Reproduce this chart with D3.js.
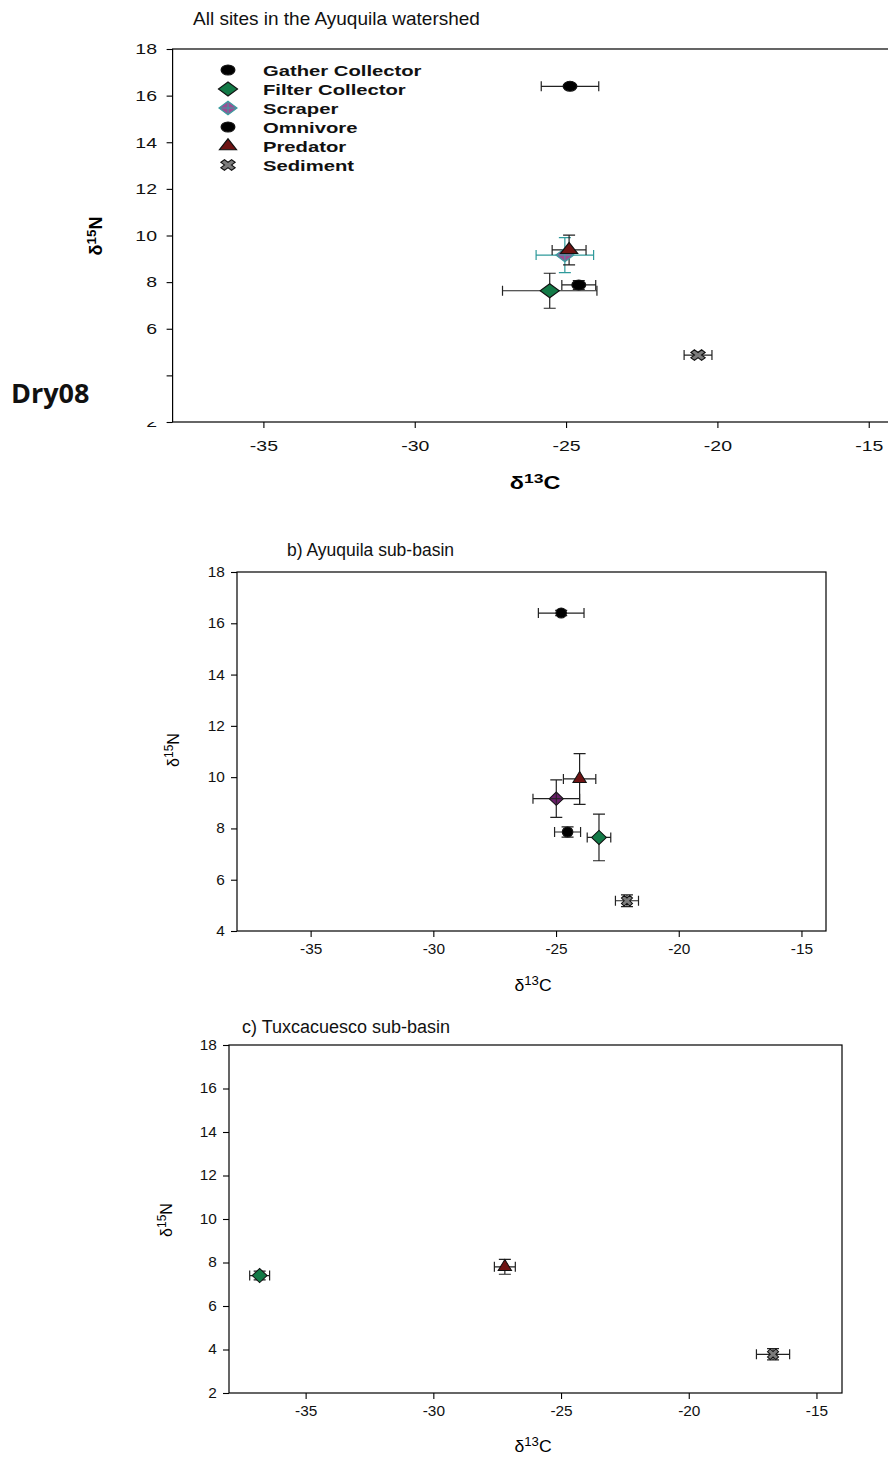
<!DOCTYPE html>
<html>
<head>
<meta charset="utf-8">
<script src="https://cdnjs.cloudflare.com/ajax/libs/d3/7.8.5/d3.min.js"></script>
<style>
body { margin:0; background:#fff; }
svg { display:block; font-family:"Liberation Sans", Arial, sans-serif; }
</style>
</head>
<body>
<svg id="drawing_region"></svg>
<script>
// groups, in legend order
const groups = ["Gather Collector", "Filter Collector", "Scraper", "Omnivore", "Predator", "Sediment"];
const xTicks = [-35, -30, -25, -20, -15];
const xDomain = [-38, -14];

// a) all sites, Dry08
const allC    = [-24.58, -25.54, -25.04, -24.87, -24.90, -20.64];
const allN    = [7.88, 7.63, 9.16, 16.40, 9.38, 4.87];
const allCErr = [0.56, 1.56, 0.95, 0.95, 0.56, 0.46];
const allNErr = [0.19, 0.75, 0.75, 0.10, 0.64, 0.10];

// b) Ayuquila sub-basin
const ayuC    = [-24.53, -23.25, -24.99, -24.79, -24.04, -22.11];
const ayuN    = [7.86, 7.65, 9.16, 16.40, 9.93, 5.18];
const ayuCErr = [0.53, 0.48, 0.95, 0.93, 0.66, 0.47];
const ayuNErr = [0.20, 0.91, 0.73, 0.10, 0.99, 0.23];

// c) Tuxcacuesco sub-basin (only three groups sampled)
const tuxC    = [null, -36.8, null, null, -27.2, -16.7];
const tuxN    = [null, 7.4, null, null, 7.8, 3.78];
const tuxCErr = [null, 0.39, null, null, 0.41, 0.65];
const tuxNErr = [null, 0.20, null, null, 0.34, 0.26];

const yTicksA = [2, 4, 6, 8, 10, 12, 14, 16, 18];
const yTicksB = [4, 6, 8, 10, 12, 14, 16, 18];
const yTicksC = [2, 4, 6, 8, 10, 12, 14, 16, 18];

function rows(cs, ns, ce, ne) {
    return groups.map((g, i) => ({ group: g, c: cs[i], n: ns[i], ce: ce[i], ne: ne[i] }))
        .filter(d => d.c !== null);
}

const svg = d3.select('#drawing_region').attr('width', 888).attr('height', 1458);

class IsoPlot {
    constructor( config, data ) {
        this.config = config;
        this.data = data;
        this.init();
    }

    init() {
        let self = this;
        let c = self.config;
        self.chart = svg.append('g');
        self.xscale = d3.scaleLinear().domain(xDomain).range([c.left, c.right]);
        self.yscale = d3.scaleLinear().domain(c.yDomain).range([c.bottom, c.top]);
        self.xaxis = d3.axisBottom(self.xscale).tickValues(xTicks)
            .tickSize(6).tickSizeOuter(0).tickFormat(d => String(d));
        self.yaxis = d3.axisLeft(self.yscale).tickValues(c.yTicks)
            .tickSize(6).tickPadding(c.yPad).tickSizeOuter(0).tickFormat(d => String(d));
    }

    update() {
        this.render();
    }

    marker( sel, group, sx, isA ) {
        let style = {
            "Gather Collector": { type: d3.symbolCircle, size: 80, fill: '#000', rot: 0 },
            "Omnivore":         { type: d3.symbolCircle, size: 80, fill: '#000', rot: 0 },
            "Filter Collector": { type: d3.symbolSquare, size: 100, fill: '#137a47', rot: 45 },
            "Scraper":          { type: d3.symbolSquare, size: 90, fill: isA ? '#9b4e94' : '#6a1f6a', rot: 45 },
            "Predator":         { type: d3.symbolTriangle, size: 70, fill: '#6e1313', rot: 0 },
            "Sediment":         { type: d3.symbolCross, size: 70, fill: '#7c7c7c', rot: 45 }
        }[group];
        sel.append('path')
            .attr('d', d3.symbol(style.type, style.size)())
            .attr('transform', `scale(${sx},1) rotate(${style.rot})`)
            .attr('fill', style.fill)
            .attr('stroke', group == "Scraper" && isA ? '#3a9fa0' : '#111')
            .attr('stroke-width', 1);
        if (group == "Scraper") {
            let h = 6.5;
            sel.append('path')
                .attr('d', `M${-h * sx},0H${h * sx}M0,${-h}V${h}`)
                .attr('stroke', isA ? '#3a9fa0' : '#222')
                .attr('stroke-width', 1);
        }
    }

    render() {
        let self = this;
        let c = self.config;
        let g = self.chart;

        // frame
        g.append('rect')
            .attr('x', c.left).attr('y', c.top)
            .attr('width', c.right - c.left).attr('height', c.bottom - c.top)
            .attr('fill', 'none').attr('stroke', '#000').attr('stroke-width', 1.2);

        let xa = g.append('g').attr('transform', `translate(0,${c.bottom})`).call(self.xaxis);
        let ya = g.append('g').attr('transform', `translate(${c.left},0)`).call(self.yaxis);
        [xa, ya].forEach(a => {
            a.attr('font-family', null).attr('font-size', c.tickSize);
            a.select('.domain').remove();
            a.selectAll('.tick line').attr('stroke', '#000').attr('stroke-width', 1.1);
            a.selectAll('.tick text').attr('fill', '#111')
                .attr('transform', `scale(${c.textSx},1)`);
        });
        xa.selectAll('.tick text').attr('y', c.xTickY);

        if (c.mask) {
            g.append('rect').attr('x', c.mask[0]).attr('y', c.mask[1])
                .attr('width', c.mask[2]).attr('height', c.mask[3]).attr('fill', '#fff');
        }

        // error bars
        let cap = 5;
        let eb = g.selectAll('g.err').data(self.data).join('g').attr('class', 'err')
            .attr('stroke', d => c.isA && d.group == "Scraper" ? '#2f9a9b' : '#222')
            .attr('stroke-width', 1.2).attr('fill', 'none');
        eb.append('path').attr('d', d => {
            let x0 = self.xscale(d.c - d.ce), x1 = self.xscale(d.c + d.ce), y = self.yscale(d.n);
            return `M${x0},${y}H${x1}M${x0},${y - cap}V${y + cap}M${x1},${y - cap}V${y + cap}`;
        });
        eb.append('path').attr('d', d => {
            let y0 = self.yscale(d.n - d.ne), y1 = self.yscale(d.n + d.ne), x = self.xscale(d.c);
            return `M${x},${y0}V${y1}M${x - cap - 1},${y0}H${x + cap + 1}M${x - cap - 1},${y1}H${x + cap + 1}`;
        });

        // markers
        g.selectAll('g.mk').data(self.data).join('g').attr('class', 'mk')
            .attr('transform', d => `translate(${self.xscale(d.c)},${self.yscale(d.n)})`)
            .each(function(d) { self.marker(d3.select(this), d.group, c.sx, c.isA); });

        // title
        g.append('text').attr('x', c.titleX).attr('y', c.titleY)
            .attr('font-size', c.titleSize).attr('fill', '#111').text(c.title);

        // axis labels
        let fw = c.isA ? 'bold' : 'normal';
        let xl = g.append('text')
            .attr('transform', `translate(${c.xLabelX},${c.xLabelY}) scale(${c.textSx},1)`)
            .attr('text-anchor', 'middle').attr('font-size', c.labelSize).attr('font-weight', fw);
        xl.append('tspan').text('δ');
        xl.append('tspan').attr('dy', -6).attr('font-size', c.labelSize * 0.75).text('13');
        xl.append('tspan').attr('dy', 6).text('C');

        let yl = g.append('text')
            .attr('transform', `translate(${c.yLabelX},${c.yLabelY}) rotate(-90)`)
            .attr('text-anchor', 'middle').attr('font-size', c.labelSize).attr('font-weight', fw);
        yl.append('tspan').text('δ');
        yl.append('tspan').attr('dy', -6).attr('font-size', c.labelSize * 0.75).text('15');
        yl.append('tspan').attr('dy', 6).text('N');
    }

    legend() {
        let self = this;
        let c = self.config;
        let lg = self.chart.selectAll('g.lg').data(groups).join('g').attr('class', 'lg')
            .attr('transform', (d, i) => `translate(228,${70 + i * 19})`);
        lg.each(function(d) { self.marker(d3.select(this), d, c.sx, true); });
        lg.append('text')
            .attr('transform', 'translate(35,5.5) scale(1.35,1)')
            .attr('font-size', 15).attr('font-weight', 'bold').attr('fill', '#111')
            .text(d => d);
    }
}

const panelA = new IsoPlot({
    left: 172.6, right: 899, top: 49, bottom: 422, yDomain: [2, 18], yTicks: yTicksA,
    sx: 1.35, textSx: 1.3, isA: true, mask: [90, 360, 70, 62], tickSize: 15, xTickY: 18, yPad: 6,
    title: "All sites in the Ayuquila watershed", titleX: 193, titleY: 25, titleSize: 19,
    xLabelX: 535, xLabelY: 489, yLabelX: 102, yLabelY: 236, labelSize: 18
}, rows(allC, allN, allCErr, allNErr));
panelA.update();
panelA.legend();

svg.append('text').attr('x', 11).attr('y', 403)
    .attr('font-family', '"Open Sans", sans-serif').attr('font-weight', 'bold')
    .attr('font-size', 27).attr('fill', '#111').text('Dry08');

const panelB = new IsoPlot({
    left: 237, right: 826, top: 572, bottom: 931, yDomain: [4, 18], yTicks: yTicksB,
    sx: 1.05, textSx: 1.1, isA: false, tickSize: 14, xTickY: 13, yPad: 5,
    title: "b)  Ayuquila sub-basin", titleX: 287, titleY: 556, titleSize: 17.5,
    xLabelX: 533, xLabelY: 991, yLabelX: 179, yLabelY: 750, labelSize: 16
}, rows(ayuC, ayuN, ayuCErr, ayuNErr));
panelB.update();

const panelC = new IsoPlot({
    left: 229, right: 842, top: 1045, bottom: 1393, yDomain: [2, 18], yTicks: yTicksC,
    sx: 1.05, textSx: 1.1, isA: false, tickSize: 14, xTickY: 13, yPad: 5,
    title: "c) Tuxcacuesco sub-basin", titleX: 242, titleY: 1033, titleSize: 18,
    xLabelX: 533, xLabelY: 1452, yLabelX: 172, yLabelY: 1220, labelSize: 16
}, rows(tuxC, tuxN, tuxCErr, tuxNErr));
panelC.update();
</script>
</body>
</html>
